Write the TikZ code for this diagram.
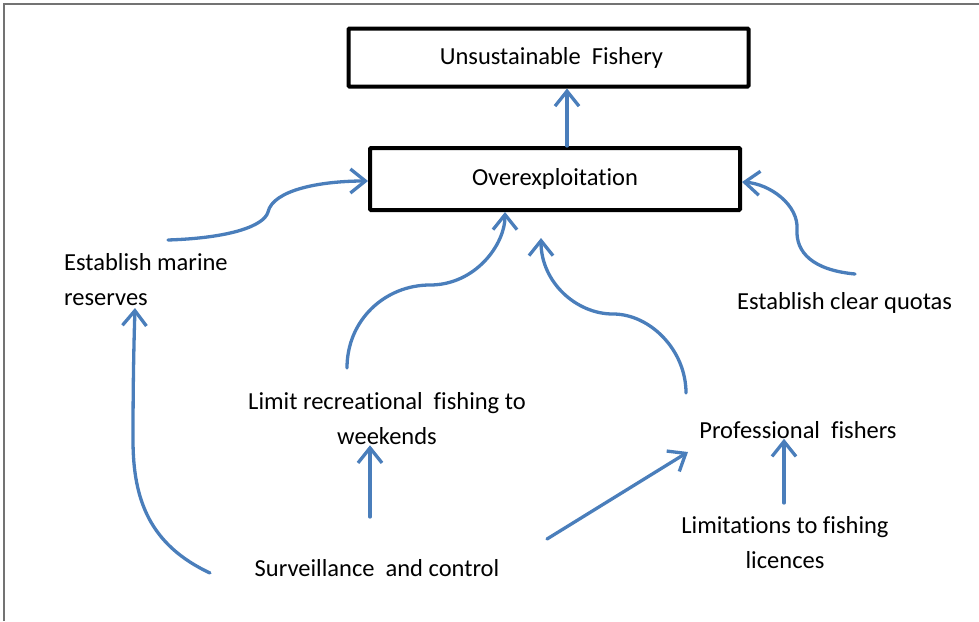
\documentclass[tikz,border=0pt]{standalone}
\usepackage{fontspec}
\setmainfont[Ligatures={NoCommon}]{Carlito}
\usetikzlibrary{arrows.meta,calc}
\definecolor{flowblue}{HTML}{4A7EBB}
\newcommand{\wgap}{\hspace{0.45em}}
\tikzset{
  box/.style={draw=black, line width=4pt, rounded corners=1pt, inner sep=0pt, align=center},
  label/.style={inner sep=0pt, align=center, text=black},
  flow/.style={draw=flowblue, line width=3.3pt, line cap=round,
    -{Straight Barb[length=15pt,width=24pt,line width=3.3pt]}},
  frame/.style={draw=black!55, line width=1.2pt}
}
\begin{document}
\begin{tikzpicture}[x=1pt,y=-1pt,font=\fontsize{24.5}{35}\selectfont]
\useasboundingbox (0,0) rectangle (979,621);
% page frame
\draw[frame] (4,621) -- (4,4) -- (979,4);

% boxes
\node[box, minimum width=400pt, minimum height=58pt] (us) at (548.5,57.5) {\hspace{6pt}Unsustainable\wgap Fishery};
\node[box, minimum width=370pt, minimum height=62pt] (ov) at (555,179) {Overexploitation};

% plain labels
\node[label, align=left, anchor=west] (mr) at (64,280) {Establish marine\\reserves};
\node[label, anchor=west] (cq) at (737,303) {Establish clear quotas};
\node[label] (lr) at (387,419) {Limit recreational\wgap fishing to\\weekends};
\node[label] (pf) at (798,430) {Professional\wgap fishers};
\node[label] (sc) at (377,568) {Surveillance\wgap and control};
\node[label] (lf) at (785,543) {Limitations to fishing\\licences};

% free ends of the connectors
\coordinate (mr-out) at (168,240);
\coordinate (cq-out) at (855,274);
\coordinate (lr-out) at (347,368);
\coordinate (pf-out) at (686,393);
\coordinate (pf-in)  at (541,238);
\coordinate (sc-left) at (210,573);
\coordinate (sc-mid) at (370,517);
\coordinate (sc-right) at (547,539);
\coordinate (mr-in) at (135,308);
\coordinate (lf-top) at (784,503);

% connectors
\draw[flow] (ov.north -| 567,0) -- (us.south -| 567,0);
\draw[flow] (mr-out) .. controls (230,238) and (264,226) .. (268,212)
                     .. controls (273,190) and (320,181) .. (ov.west |- 0,181);
\draw[flow] (cq-out) .. controls (812,270) and (796,252) .. (797,230)
                     .. controls (799,205) and (770,184) .. (ov.east |- 0,182);
\draw[flow] (lr-out) .. controls (347,320) and (385,285) .. (430,285)
                     .. controls (475,285) and (505,245) .. (ov.south -| 505,0);
\draw[flow] (pf-out) .. controls (686,350) and (650,314) .. (613,314)
                     .. controls (576,314) and (541,282) .. (pf-in);
\draw[flow] (sc-mid) -- (lr.south -| sc-mid);
\draw[flow] (sc-right) -- (688,452);
\draw[flow] (lf-top) -- (pf.south -| lf-top);
\draw[flow] (sc-left) .. controls (150,545) and (133,500) .. (133,440)
                      .. controls (133,380) and (134,340) .. (mr-in);
\end{tikzpicture}
\end{document}
